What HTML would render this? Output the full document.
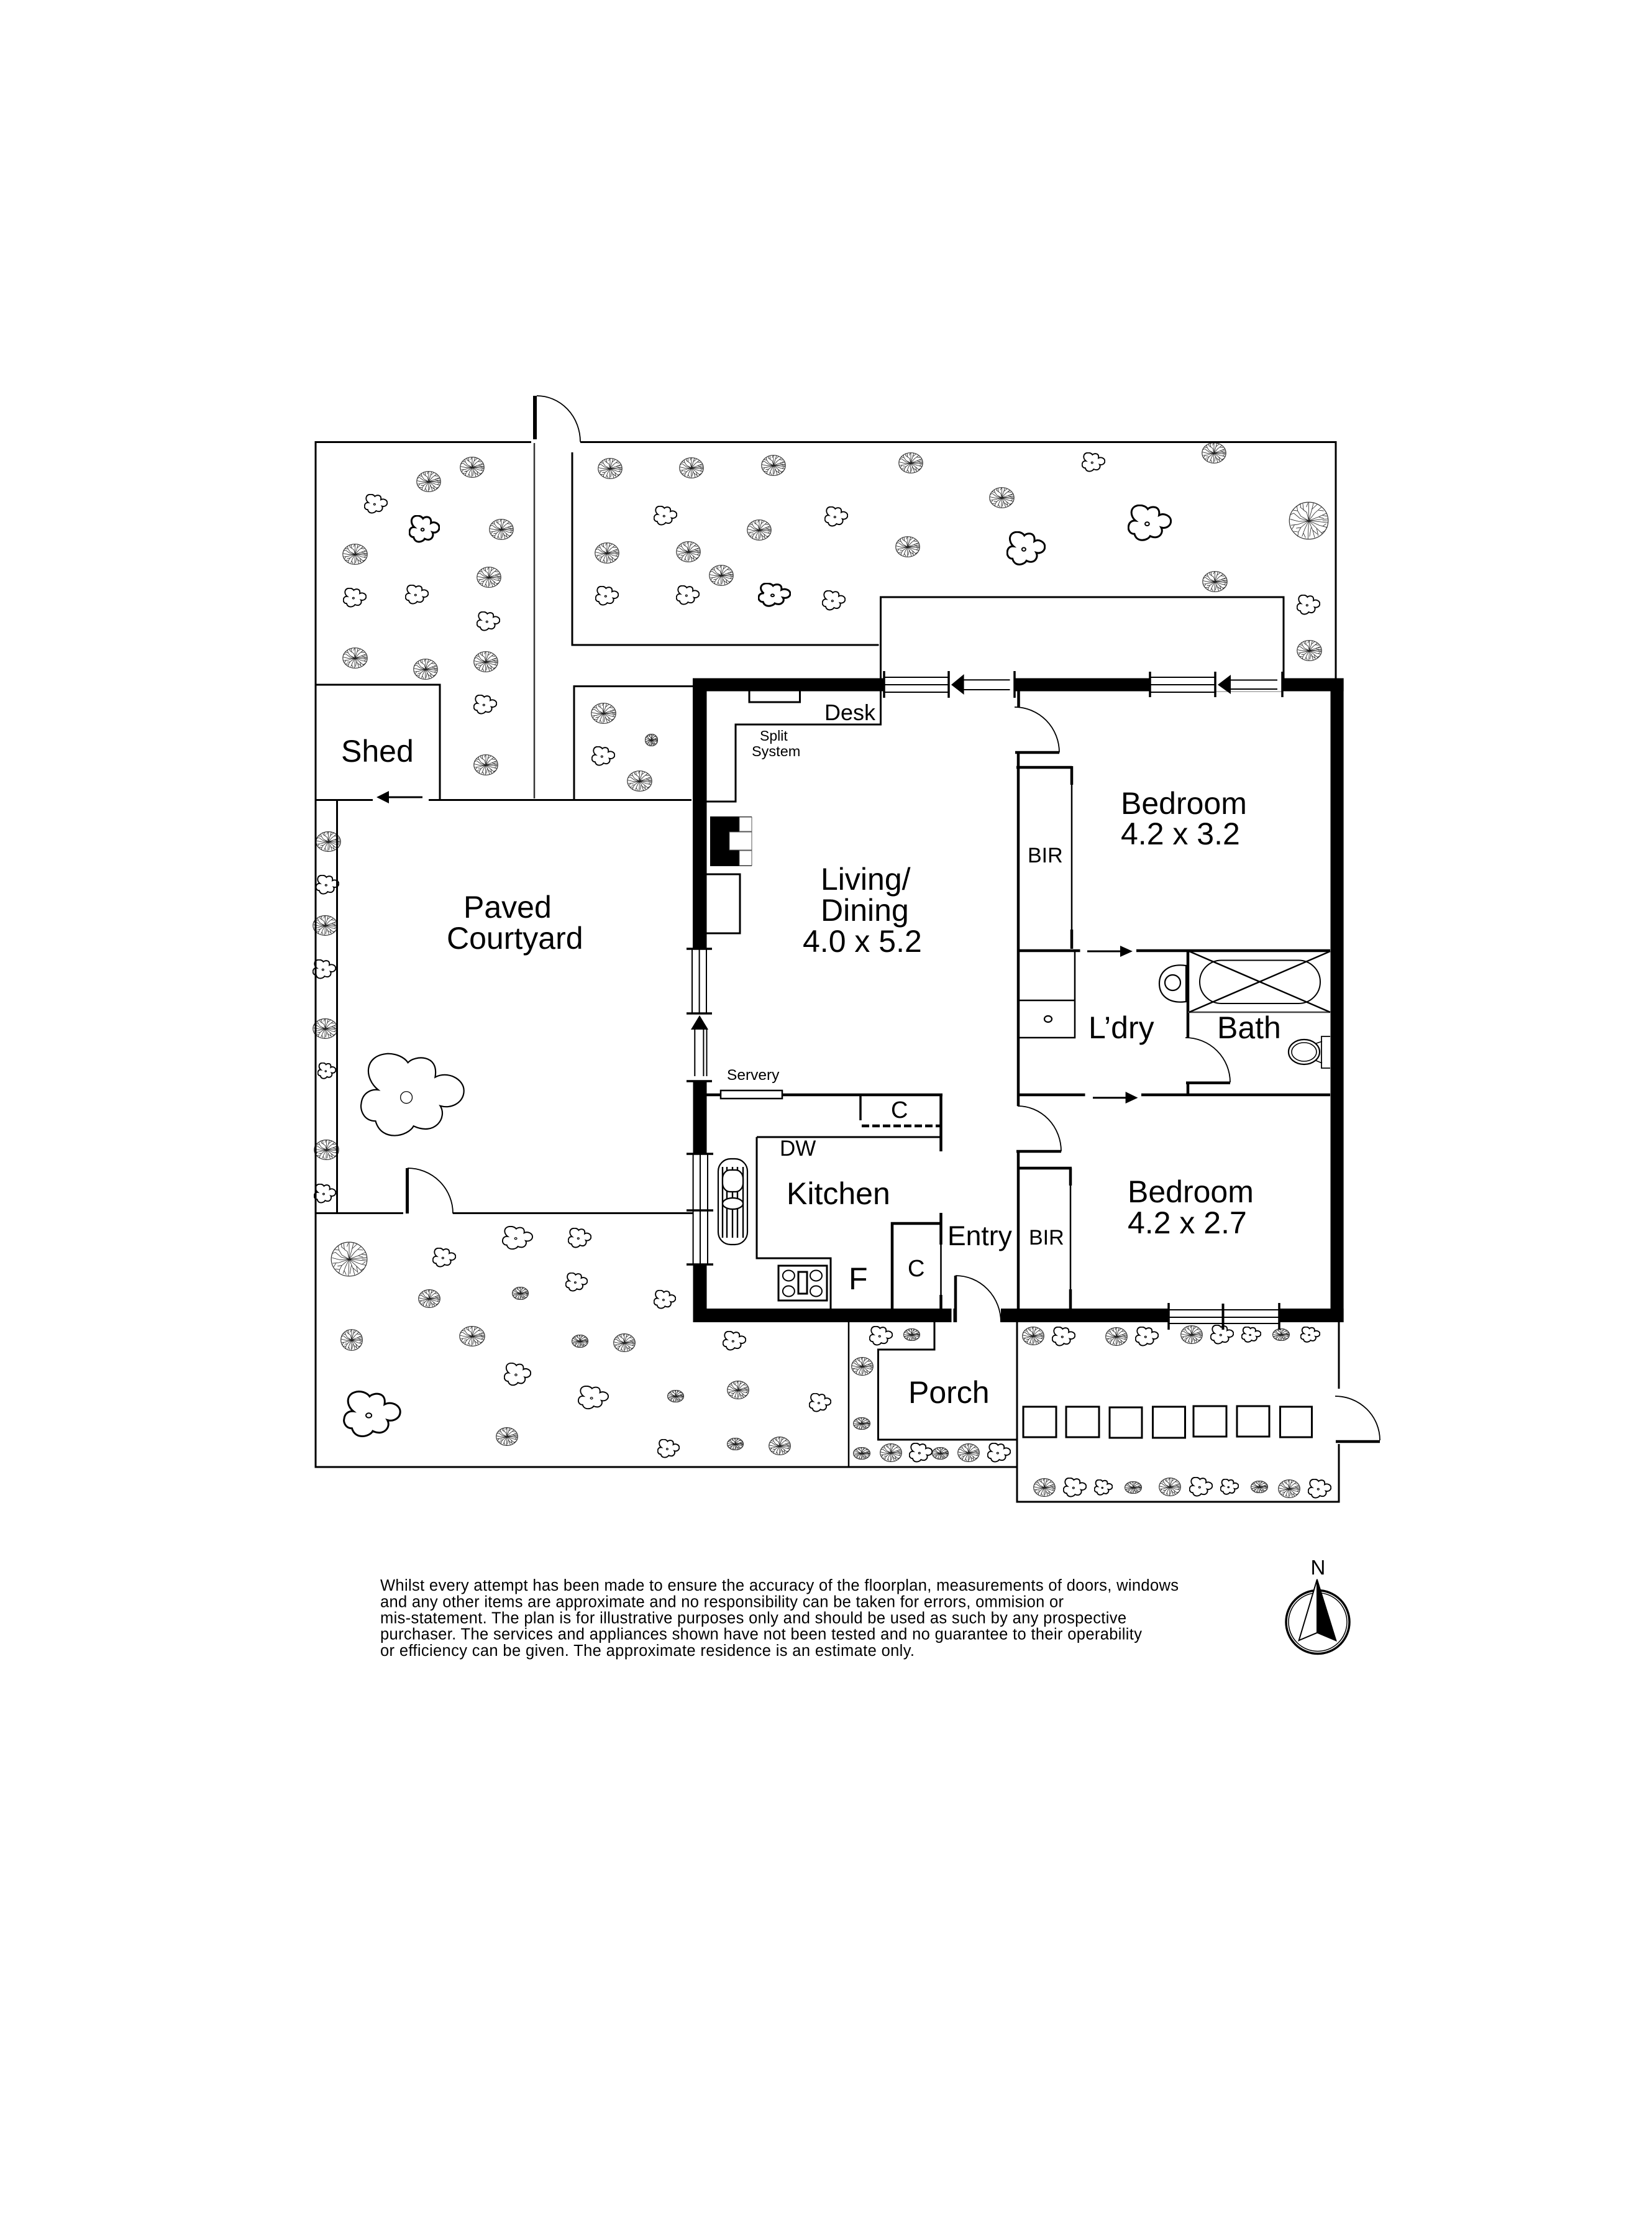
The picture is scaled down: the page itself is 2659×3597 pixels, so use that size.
<!DOCTYPE html>
<html><head><meta charset="utf-8"><title>Floor plan</title>
<style>html,body{margin:0;padding:0;background:#fff}svg{display:block}text{font-family:"Liberation Sans",sans-serif;fill:#000}</style></head>
<body>
<svg xmlns="http://www.w3.org/2000/svg" width="2659" height="3597" viewBox="0 0 2659 3597">
<defs>
<symbol id="t" viewBox="-1 -1 102 102" preserveAspectRatio="none">
<ellipse cx="50" cy="50" rx="49" ry="49" fill="#fff" stroke="#333" stroke-width="1.2" vector-effect="non-scaling-stroke"/>
<path fill="none" stroke="#222" stroke-width=".8" vector-effect="non-scaling-stroke" d="M50 50L50 2M50 50L45 28L37 22L35 5M50 50L30 38L22 24L20 12M50 50L28 44L12 30M50 50L25 52L3 46M50 50L22 60L5 62M50 50L30 68L24 80L12 78M50 50L40 72L33 92M50 50L48 98M50 50L60 75L65 95M50 50L72 72L85 85M50 50L76 62L97 68M50 50L98 55M50 50L98 45M50 50L75 40L95 30M50 50L65 30L82 14M50 50L58 20L62 3M38 22L28 14M30 68L18 70M60 75L72 86M75 40L88 44M22 24L10 22M12 30L4 34M14 61L8 72M24 80L22 92M36 82L42 95M56 68L52 92M70 70L74 90M82 82L92 76M85 65L94 58M85 50L97 50M85 36L96 38M74 22L88 24M58 20L72 6M44 14L48 3M30 14L28 4"/>
</symbol>
<symbol id="s" viewBox="-2 -2 104 104" preserveAspectRatio="none">
<path fill="#fff" stroke="#000" stroke-width="1.9" vector-effect="non-scaling-stroke" d="M45.5 10.7C52 2 76 0 72 28C84 20 100 30 100 44C100 58 88 66 77 62C84 76 72 98 51 86C46 98 20 106 14 80C2 80 -1 66 0 60C1 46 10 42 16.6 43C3 30 2 2 26 0C34 0 42 4 45.5 10.7Z"/>
<ellipse cx="44" cy="52" rx="4" ry="4" fill="#fff" stroke="#000" stroke-width="1.2" vector-effect="non-scaling-stroke"/>
</symbol>
<symbol id="b" viewBox="-2 -2 104 104" preserveAspectRatio="none">
<path fill="#fff" stroke="#000" stroke-width="3" vector-effect="non-scaling-stroke" d="M45.5 10.7C52 2 76 0 72 28C84 20 100 30 100 44C100 58 88 66 77 62C84 76 72 98 51 86C46 98 20 106 14 80C2 80 -1 66 0 60C1 46 10 42 16.6 43C3 30 2 2 26 0C34 0 42 4 45.5 10.7Z"/>
<ellipse cx="44" cy="52" rx="5" ry="5" fill="#fff" stroke="#000" stroke-width="2" vector-effect="non-scaling-stroke"/>
</symbol>
<symbol id="c" viewBox="-2 -2 104 104" preserveAspectRatio="none">
<path fill="#fff" stroke="#000" stroke-width="2.2" vector-effect="non-scaling-stroke" d="M45.5 10.7C52 2 76 0 72 28C84 20 100 30 100 44C100 58 88 66 77 62C84 76 72 98 51 86C46 98 20 106 14 80C2 80 -1 66 0 60C1 46 10 42 16.6 43C3 30 2 2 26 0C34 0 42 4 45.5 10.7Z"/>
<ellipse cx="44" cy="52" rx="5.7" ry="7" fill="#fff" stroke="#000" stroke-width="1.3" vector-effect="non-scaling-stroke"/>
</symbol>
</defs>
<rect width="2659" height="3597" fill="#fff"/>

<!-- trees -->
<g>
<use href="#t" x="740" y="735" width="40" height="34"/><use href="#t" x="670" y="758" width="40" height="34"/><use href="#t" x="787" y="835" width="40" height="34"/><use href="#t" x="551" y="875" width="41" height="34"/><use href="#t" x="767" y="912" width="40" height="34"/><use href="#t" x="551" y="1042" width="41" height="34"/><use href="#t" x="665" y="1060" width="40" height="34"/><use href="#t" x="762" y="1048" width="40" height="34"/><use href="#t" x="762" y="1214" width="40" height="34"/>
<use href="#t" x="962" y="737" width="40" height="34"/><use href="#t" x="1093" y="736" width="40" height="34"/><use href="#t" x="957" y="873" width="40" height="34"/><use href="#t" x="1088" y="871" width="40" height="34"/><use href="#t" x="1141" y="909" width="40" height="34"/>
<use href="#t" x="951" y="1131" width="41" height="34"/><use href="#t" x="1038" y="1181" width="21" height="20"/><use href="#t" x="1009" y="1240" width="41" height="34"/>
<use href="#t" x="1225" y="732" width="40" height="34"/><use href="#t" x="1446" y="728" width="40" height="34"/><use href="#t" x="1202" y="836" width="40" height="34"/><use href="#t" x="1441" y="863" width="40" height="34"/>
<use href="#t" x="1934" y="712" width="40" height="34"/><use href="#t" x="1592" y="784" width="41" height="34"/><use href="#t" x="1935" y="919" width="41" height="34"/><use href="#t" x="2074" y="807" width="65" height="62"/><use href="#t" x="2087" y="1030" width="41" height="34"/>
<use href="#t" x="508" y="1338" width="41" height="33"/><use href="#t" x="503" y="1473" width="41" height="33"/><use href="#t" x="503" y="1639" width="41" height="33"/><use href="#t" x="505" y="1834" width="41" height="33"/>
<use href="#t" x="532" y="1998" width="60" height="57"/><use href="#t" x="673" y="2075" width="36" height="30"/><use href="#t" x="824" y="2071" width="27" height="21"/><use href="#t" x="548" y="2139" width="36" height="35"/><use href="#t" x="739" y="2134" width="42" height="33"/><use href="#t" x="920" y="2148" width="27" height="21"/><use href="#t" x="987" y="2146" width="36" height="30"/><use href="#t" x="1170" y="2222" width="36" height="30"/><use href="#t" x="1074" y="2237" width="27" height="20"/><use href="#t" x="798" y="2297" width="36" height="30"/><use href="#t" x="1170" y="2314" width="27" height="20"/><use href="#t" x="1237" y="2312" width="36" height="30"/>
<use href="#t" x="1454" y="2138" width="27" height="20"/><use href="#t" x="1370" y="2184" width="36" height="30"/><use href="#t" x="1373" y="2281" width="28" height="20"/><use href="#t" x="1373" y="2329" width="28" height="20"/><use href="#t" x="1416" y="2323" width="36" height="30"/><use href="#t" x="1500" y="2329" width="27" height="20"/><use href="#t" x="1541" y="2323" width="36" height="30"/>
<use href="#t" x="1645" y="2135" width="36" height="30"/><use href="#t" x="1779" y="2136" width="36" height="30"/><use href="#t" x="1900" y="2133" width="36" height="30"/><use href="#t" x="2048" y="2138" width="28" height="20"/>
<use href="#t" x="1663" y="2379" width="36" height="30"/><use href="#t" x="1810" y="2384" width="28" height="20"/><use href="#t" x="1865" y="2378" width="36" height="30"/><use href="#t" x="2013" y="2383" width="28" height="20"/><use href="#t" x="2057" y="2381" width="36" height="30"/>
</g>
<!-- shrubs -->
<g>
<use href="#s" x="586" y="795" width="38" height="32"/><use href="#b" x="658" y="829" width="50" height="45"/><use href="#s" x="552" y="946" width="38" height="32"/><use href="#s" x="652" y="941" width="38" height="32"/><use href="#s" x="767" y="984" width="38" height="32"/><use href="#s" x="958" y="943" width="38" height="32"/><use href="#s" x="1088" y="942" width="38" height="32"/><use href="#s" x="762" y="1118" width="38" height="32"/><use href="#s" x="1052" y="814" width="38" height="32"/><use href="#s" x="952" y="1201" width="38" height="32"/>
<use href="#s" x="1327" y="815" width="38" height="33"/><use href="#b" x="1220" y="938" width="53" height="39"/><use href="#s" x="1323" y="950" width="38" height="33"/><use href="#s" x="1741" y="728" width="38" height="32"/><use href="#b" x="1815" y="812" width="71" height="60"/><use href="#b" x="1620" y="855" width="63" height="56"/><use href="#s" x="2087" y="957" width="38" height="33"/>
<use href="#s" x="508" y="1408" width="38" height="32"/><use href="#s" x="503" y="1544" width="38" height="32"/><use href="#s" x="511" y="1710" width="30" height="27"/><use href="#s" x="505" y="1905" width="36" height="32"/>
<use href="#c" x="578" y="1693" width="172" height="141"/>
<use href="#s" x="808" y="1973" width="50" height="39"/><use href="#s" x="914" y="1976" width="38" height="33"/><use href="#s" x="696" y="2008" width="38" height="32"/><use href="#s" x="910" y="2048" width="36" height="31"/><use href="#s" x="1052" y="2076" width="36" height="31"/><use href="#s" x="1163" y="2142" width="38" height="32"/><use href="#s" x="811" y="2193" width="44" height="38"/><use href="#s" x="930" y="2230" width="50" height="39"/><use href="#s" x="1302" y="2242" width="36" height="31"/><use href="#s" x="1058" y="2316" width="36" height="31"/><use href="#b" x="552" y="2238" width="94" height="77"/>
<use href="#s" x="1399" y="2134" width="38" height="32"/><use href="#s" x="1463" y="2322" width="38" height="32"/><use href="#s" x="1589" y="2322" width="38" height="32"/>
<use href="#s" x="1693" y="2135" width="38" height="32"/><use href="#s" x="1827" y="2135" width="38" height="32"/><use href="#s" x="1948" y="2132" width="38" height="32"/><use href="#s" x="1998" y="2135" width="32" height="26"/><use href="#s" x="2093" y="2135" width="32" height="26"/>
<use href="#s" x="1711" y="2378" width="38" height="32"/><use href="#s" x="1761" y="2381" width="30" height="26"/><use href="#s" x="1914" y="2377" width="38" height="32"/><use href="#s" x="1964" y="2380" width="30" height="26"/><use href="#s" x="2105" y="2380" width="38" height="32"/>
</g>

<!-- thick walls -->
<g fill="#000">
<rect x="1115" y="1091.5" width="308" height="21"/>
<rect x="1115" y="1091.5" width="22.5" height="435.5"/>
<rect x="1632.5" y="1091.5" width="218" height="21"/>
<rect x="2064" y="1091.5" width="98.6" height="21"/>
<rect x="2141.5" y="1091.5" width="21.1" height="1036.5"/>
<rect x="1115.5" y="2106" width="416" height="22"/>
<rect x="1611" y="2106" width="270" height="22"/>
<rect x="2059" y="2106" width="103.6" height="22"/>
<rect x="1115.5" y="1740" width="22" height="117"/>
<rect x="1115.5" y="2035" width="22" height="93"/>
</g>

<!-- thin walls -->
<g fill="none" stroke="#000" stroke-width="3">
<path d="M855 711.5H508V2361H1637"/>
<path d="M934 711.5H2150V1092"/>
<path d="M921 728V1038H1414.5"/>
<path d="M1137 1290H1184V1166H1417.5V961H2066V1092"/>
<path d="M924 1287V1104.5H1115"/>
<path d="M508 1102H708V1287"/>
<path d="M508 1287.5H600M690 1287.5H1113"/>
<path d="M542.5 1287V1952"/>
<path d="M508 1952.5H649M729 1952.5H1116"/>
<path d="M1366 2128V2361" stroke-width="2.5"/>
<path d="M1504 2128V2172H1413.5V2317H1637"/>
<path d="M1637 2128V2417H2155V2324M2155 2128V2235"/>
<path d="M860 713V1285" stroke="#333" stroke-width="2.5"/>
<!-- desk AC, hearth -->
<path d="M1206 1112V1130H1287.5V1112"/>
<path d="M1137 1407H1191V1502H1137"/>
<!-- interior -->
<path d="M1218 1830H1514M1218 1830V2025H1337V2106"/>
<path d="M1385 1762V1803" stroke-width="3.5"/>
</g>
<g fill="none" stroke="#000" stroke-width="4.5">
<path d="M1639 1211V1780M1639 1853V2106"/>
<path d="M1636 1235H1725.5"/>
<path d="M1725 1233V1263M1725 1496V1527M1723 1880V1908M1723 2075V2106"/>
<path d="M1639 1880H1725"/>
<path d="M1639 1530H1738.5M1829 1530H2141"/>
<path d="M1912 1530V1670"/>
<path d="M1639 1762H1746.5M1837 1762H2141"/>
<path d="M1912 1762V1742.7M1909 1742.7H1980"/>
<path d="M1634 1211H1705"/>
<path d="M1636 1853H1708"/>
<path d="M1137 1762H1160M1259 1762H1517"/>
<path d="M1514.5 1760V1853"/>
<path d="M1514.5 1952V2003M1514.5 2084V2106"/>
<path d="M1436 2106V1969H1514"/>
<path d="M1538 2053V2128"/>
<path d="M2150 2320H2221"/>
<path d="M1387 1812H1514" stroke-dasharray="12 5"/>
<path d="M1639.5 1112V1138" />
<path d="M861 637V707" stroke-width="6"/>
<path d="M655.5 1880V1953" stroke-width="5"/>
<path d="M1536 2106V2128" stroke-width="3"/>
</g>
<g fill="none" stroke="#000" stroke-width="2.5">
<path d="M1725 1263V1496M1723 1908V2075M1514.5 2003V2084"/>
<path d="M1639 1610H1730M1730 1530V1670H1639"/>
<path d="M1912 1629H2141" stroke="#444"/>
<path d="M1914 1531L2141 1629M1914 1629L2141 1531"/>
<rect x="1931" y="1545.5" width="194" height="69.5" rx="35" ry="35" stroke-width="2"/>
<rect x="1160" y="1755" width="99" height="13" fill="#fff"/>
</g>
<!-- door arcs -->
<g fill="none" stroke="#000" stroke-width="1.8">
<path d="M864 637A70 74 0 0 1 934 711"/>
<path d="M1633 1138A72 73 0 0 1 1705 1211"/>
<path d="M1908 1670A72 72 0 0 1 1980 1742"/>
<path d="M1638 1780A70 73 0 0 1 1708 1853"/>
<path d="M656 1880A73 73 0 0 1 729 1953"/>
<path d="M1538 2053A73 75 0 0 1 1611 2128"/>
<path d="M2149 2247A72 71 0 0 1 2221 2318"/>
</g>

<!-- windows -->
<g fill="none" stroke="#000" stroke-width="2">
<path d="M1423 1090H1527M1423 1102H1527M1423 1114H1527"/>
<path d="M1551 1094.3H1625.5M1551 1110H1625.5"/>
<path d="M1851 1090H1956M1851 1102H1956M1851 1114H1956"/>
<path d="M1980 1094.5H2056M1980 1109H2056"/>
<path d="M1956 1113H2064" stroke="#777" stroke-width="1"/>
<path d="M1114 1527V1631M1125.6 1527V1631M1137 1527V1631"/>
<path d="M1118.3 1657V1732M1132.4 1657V1732M1137.5 1657V1732"/>
<path d="M1115.6 1857V2035M1127 1857V2035M1139 1857V2035"/>
<path d="M1881 2108H2059M1881 2120H2059M1881 2130H2059"/>
</g>
<g fill="none" stroke="#000" stroke-width="3.5">
<path d="M1423 1080V1123M1527 1080V1123M1633 1080V1123"/>
<path d="M1851 1081V1122M1956 1081V1122M2064 1081V1122"/>
<path d="M1105 1527H1146M1105 1631H1146M1105 1740H1146M1105 1857H1148M1105 1948H1148M1105 2035H1148"/>
<path d="M1881 2097V2140M2059 2097V2140"/>
<path d="M1968.5 2098V2140" stroke-width="4"/>
</g>

<!-- sliding arrows -->
<g fill="#000">
<path d="M1531 1102L1551.6 1085V1118Z"/>
<path d="M1960 1102L1981 1086V1117Z" />
<path d="M1126 1634L1140 1657H1112Z"/>
<path d="M606 1283L626 1273V1293Z"/>
<path d="M1803 1522V1540L1823 1531Z"/>
<path d="M1811.6 1757V1776L1831.5 1766.7Z"/>
</g>
<g fill="none" stroke="#000" stroke-width="3">
<path d="M626 1283H680M1750 1531H1803M1759 1766.7H1812"/>
</g>

<!-- fireplace -->
<rect x="1143" y="1314" width="67" height="80" fill="#000"/>
<g fill="#fff" stroke="#555" stroke-width="1"><rect x="1190" y="1315" width="20" height="23"/><rect x="1174" y="1339" width="36" height="29"/><rect x="1190" y="1369" width="20" height="24"/></g>

<!-- basin, toilet, sink -->
<g fill="#fff" stroke="#000" stroke-width="2.2">
<path d="M1909 1554C1880 1550 1866 1565 1866 1583C1866 1601 1880 1616 1909 1612Z"/>
<ellipse cx="1887.5" cy="1581.5" rx="12.5" ry="12.5"/>
<ellipse cx="1687" cy="1640" rx="6" ry="5"/>
<path d="M2141 1668H2127V1719H2141" stroke-width="1.8"/>
<path d="M2116 1680L2128 1676M2116 1706L2128 1711" stroke-width="1.5"/>
<ellipse cx="2099" cy="1693" rx="25" ry="20"/>
<ellipse cx="2099" cy="1693" rx="20" ry="15" stroke-width="1.6"/>
</g>

<!-- kitchen sink/island -->
<g fill="none" stroke="#000" stroke-width="2.2">
<rect x="1156" y="1865" width="47" height="138" rx="20" ry="20"/>
<path d="M1163 1878V1992M1170 1878V1992M1179 1878V1992M1187 1878V1992M1196 1878V1992" stroke-width="2.4"/>
<rect x="1163" y="1883" width="33" height="35" rx="12" ry="14" fill="#fff"/>
<ellipse cx="1179.5" cy="1937" rx="16.5" ry="9" fill="#fff"/>
</g>
<!-- cooktop -->
<g fill="none" stroke="#000">
<rect x="1253" y="2037" width="78" height="56" stroke-width="3"/>
<rect x="1285" y="2047" width="14" height="35" stroke-width="3"/>
<g stroke-width="2"><ellipse cx="1269.4" cy="2053" rx="9.5" ry="8.5"/><ellipse cx="1313.5" cy="2053" rx="9.5" ry="8.5"/><ellipse cx="1269.4" cy="2078" rx="9.5" ry="8.5"/><ellipse cx="1313.5" cy="2078" rx="9.5" ry="8.5"/></g>
</g>

<!-- stepping stones -->
<g fill="none" stroke="#000" stroke-width="3">
<rect x="1647" y="2264" width="53" height="49"/><rect x="1716" y="2264" width="53" height="49"/><rect x="1786" y="2265" width="52" height="49"/><rect x="1855.5" y="2264" width="52" height="50"/><rect x="1921" y="2263" width="53" height="49"/><rect x="1991" y="2263" width="52" height="49"/><rect x="2060.5" y="2264" width="51" height="49"/>
</g>

<!-- labels -->
<g font-size="50">
<text x="549" y="1226">Shed</text>
<text x="1804" y="1310">Bedroom</text>
<text x="1804" y="1359">4.2 x 3.2</text>
<text x="1321" y="1432">Living/</text>
<text x="1321" y="1482">Dining</text>
<text x="1292" y="1532">4.0 x 5.2</text>
<text x="1752" y="1671">L’dry</text>
<text x="1959" y="1671">Bath</text>
<text x="1815" y="1935">Bedroom</text>
<text x="1815" y="1985">4.2 x 2.7</text>
<text x="1266" y="1938">Kitchen</text>
<text x="1366" y="2075">F</text>
<text x="1525" y="2004" font-size="44.5">Entry</text>
<text x="1462" y="2258">Porch</text>
<text x="746" y="1477">Paved</text>
<text x="719" y="1527">Courtyard</text>
</g>
<text x="1327" y="1159" font-size="36">Desk</text>
<text x="1223" y="1192" font-size="23">Split</text>
<text x="1210" y="1217" font-size="23.5">System</text>
<text x="1654" y="1388" font-size="34">BIR</text>
<text x="1656" y="2003" font-size="34">BIR</text>
<text x="1170" y="1738" font-size="24.5">Servery</text>
<text x="1434" y="1799" font-size="38">C</text>
<text x="1461" y="2054" font-size="38">C</text>
<text x="1255" y="1860" font-size="35">DW</text>

<!-- disclaimer -->
<g font-size="25.5">
<text x="612" y="2560" textLength="1285" lengthAdjust="spacing">Whilst every attempt has been made to ensure the accuracy of the floorplan, measurements of doors, windows</text>
<text x="612" y="2586.5" textLength="1100" lengthAdjust="spacing">and any other items are approximate and no responsibility can be taken for errors, ommision or</text>
<text x="612" y="2612.5" textLength="1201" lengthAdjust="spacing">mis-statement. The plan is for illustrative purposes only and should be used as such by any prospective</text>
<text x="612" y="2638.5" textLength="1226" lengthAdjust="spacing">purchaser. The services and appliances shown have not been tested and no guarantee to their operability</text>
<text x="612" y="2665" textLength="860" lengthAdjust="spacing">or efficiency can be given. The approximate residence is an estimate only.</text>
</g>

<!-- north -->
<text x="2109.5" y="2534" font-size="33">N</text>
<circle cx="2121" cy="2610.5" r="51" fill="#fff" stroke="#000" stroke-width="3.5"/>
<circle cx="2121" cy="2610.5" r="47" fill="none" stroke="#000" stroke-width="1.5"/>
<path d="M2120 2541.7L2090.7 2640L2120 2627.7Z" fill="#fff" stroke="#000" stroke-width="2"/>
<path d="M2120 2541.7L2150.7 2640.7L2120 2627.7Z" fill="#000" stroke="#000" stroke-width="1.5"/>
</svg>
</body></html>
